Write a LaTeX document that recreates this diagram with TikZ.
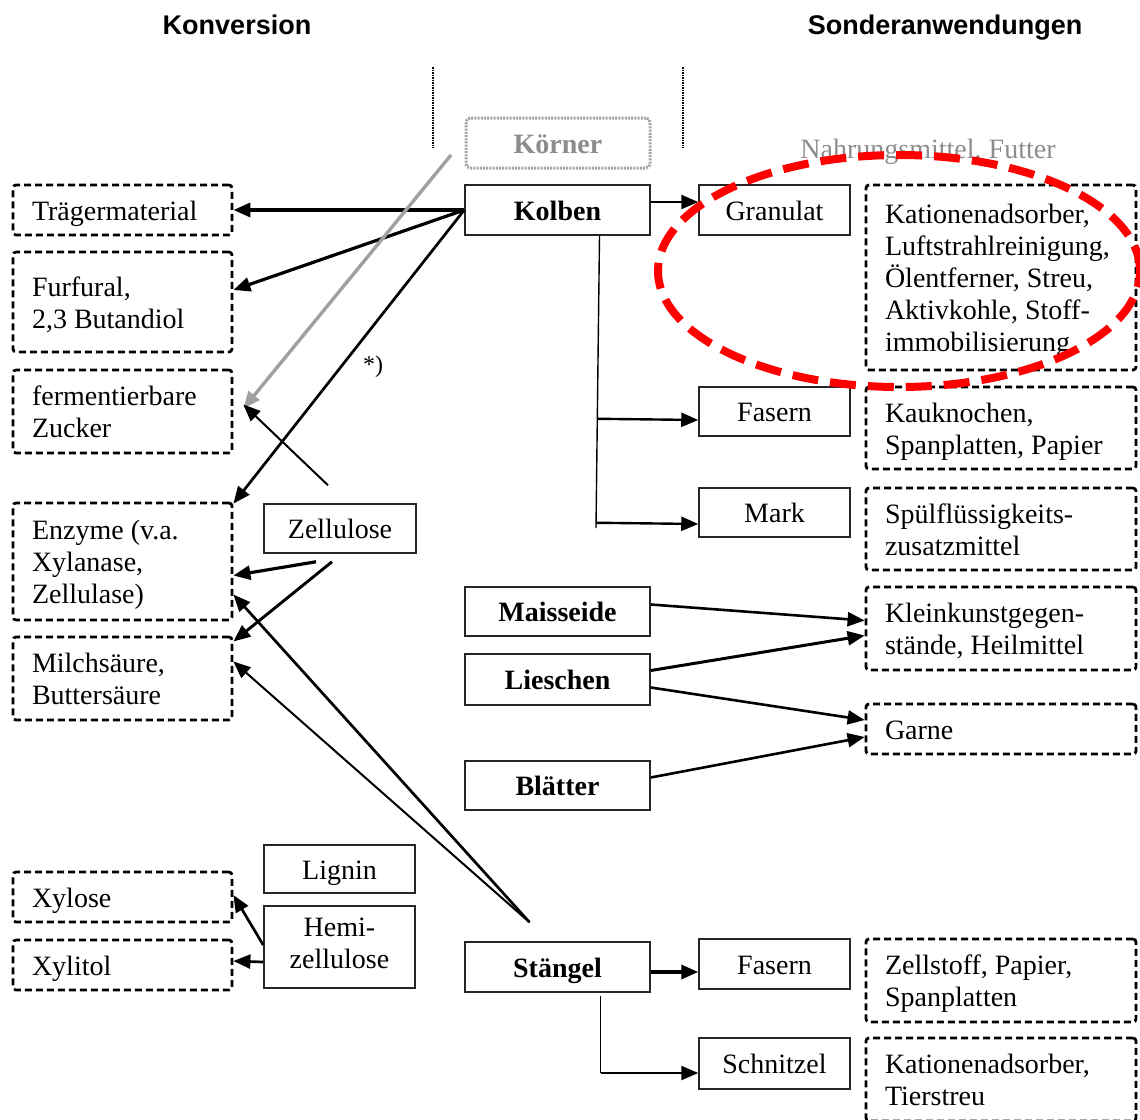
\documentclass[tikz,border=0pt]{standalone}
\usepackage{fontspec}
\setmainfont{Liberation Serif}
\setsansfont{Liberation Sans}
\usetikzlibrary{arrows.meta,calc}
\definecolor{kgray}{RGB}{140,140,140}
\definecolor{agray}{RGB}{160,160,160}
\begin{document}
\begin{tikzpicture}[x=1pt,y=-1pt,
  every node/.style={font=\fontsize{28}{32}\selectfont},
  struts/.style={execute at end node={\rule[-8pt]{0pt}{8pt}}},
  sbox/.style={draw=black!85, line width=1.5pt, inner sep=0pt, align=center, struts,
    execute at begin node={\rule{0pt}{28pt}}},
  dbox/.style={draw=black, line width=2.8pt, dash pattern=on 7pt off 4pt, rounded corners=3pt, inner xsep=19pt, inner ysep=0pt, align=left, struts,
    execute at begin node={\spaceskip=0pt\xspaceskip=0pt\relax\rule{0pt}{28pt}}},
  lbox/.style={dbox, minimum width=219pt, text width=181pt},
  rbox/.style={dbox, minimum width=270pt, text width=232pt},
  arr/.style={-{Triangle[length=17pt,width=14pt]}, line width=2.5pt},
  head/.style={font=\fontsize{27}{30}\selectfont\sffamily\bfseries, anchor=base},
  dotline/.style={line width=2.4pt, dash pattern=on 1.5pt off 1pt},
]
\useasboundingbox (0,0) rectangle (1140,1119);

% headers
\node[head] (hconv) at (237,34) {Konversion};
\node[head] (hsonder) at (945,34) {Sonderanwendungen};

% dotted vertical lines
\draw[dotline] (433,67) -- (433,148);
\draw[dotline] (683,67) -- (683,148);

% top
\node[sbox, minimum width=184pt, minimum height=50pt, draw=kgray!80, line width=3pt, dash pattern=on 2pt off 1.2pt, rounded corners=4pt, text=kgray, font=\fontsize{28}{32}\selectfont\bfseries] (koerner) at (558,143) {Körner};
\node[text=kgray, anchor=base] (nahr) at (928,158) {Nahrungsmittel, Futter};

% left dashed boxes
\node[lbox, minimum height=50pt] (trag) at (122.5,210) {Trägermaterial};
\node[lbox, minimum height=100pt] (furf) at (122.5,302) {Furfural,\\2,3 Butandiol};
\node[lbox, minimum height=83pt] (ferm) at (122.5,411.5) {fermentierbare\\Zucker};
\node[lbox, minimum height=117pt] (enz) at (122.5,561.5) {Enzyme (v.a.\\Xylanase,\\Zellulase)};
\node[lbox, minimum height=83pt] (milch) at (122.5,678.5) {Milchsäure,\\Buttersäure};
\node[lbox, minimum height=50pt] (xylose) at (122.5,897) {Xylose};
\node[lbox, minimum height=50pt] (xylitol) at (122.5,965) {Xylitol};

% solid boxes left-middle
\node[sbox, minimum width=152pt, minimum height=49pt] (zell) at (340,528.5) {Zellulose};
\node[sbox, minimum width=151pt, minimum height=48pt] (lignin) at (339.5,869) {Lignin};
\node[sbox, minimum width=151pt, minimum height=82pt] (hemi) at (339.5,947) {Hemi-\\zellulose};

% middle column
\node[sbox, minimum width=185pt, minimum height=50pt] (kolben) at (557.5,210) {\textbf{Kolben}};
\node[sbox, minimum width=185pt, minimum height=49pt] (mais) at (557.5,611.5) {\textbf{Maisseide}};
\node[sbox, minimum width=185pt, minimum height=51pt] (lies) at (557.5,679.5) {\textbf{Lieschen}};
\node[sbox, minimum width=185pt, minimum height=49pt] (blaet) at (557.5,785.5) {\textbf{Blätter}};
\node[sbox, minimum width=185pt, minimum height=50pt] (staengel) at (557.5,967) {\textbf{Stängel}};

% products
\node[sbox, minimum width=151pt, minimum height=50pt] (granulat) at (774.5,210) {Granulat};
\node[sbox, minimum width=151pt, minimum height=49pt] (fasern1) at (774.5,411.5) {Fasern};
\node[sbox, minimum width=151pt, minimum height=49pt] (mark) at (774.5,512.5) {Mark};
\node[sbox, minimum width=151pt, minimum height=50pt] (fasern2) at (774.5,964) {Fasern};
\node[sbox, minimum width=151pt, minimum height=51pt] (schnitzel) at (774.5,1063.5) {Schnitzel};

% right dashed boxes
\node[rbox, minimum height=185pt] (kation) at (1001,277.5) {Kationenadsorber,\\Luftstrahlreinigung,\\Ölentferner, Streu,\\Aktivkohle, Stoff-\\immobilisierung};
\node[rbox, minimum height=82pt] (kau) at (1001,428) {Kauknochen,\\Spanplatten, Papier};
\node[rbox, minimum height=82pt] (spuel) at (1001,529) {Spülflüssigkeits-\\zusatzmittel};
\node[rbox, minimum height=83pt] (klein) at (1001,628.5) {Kleinkunstgegen-\\stände, Heilmittel};
\node[rbox, minimum height=50pt] (garne) at (1001,729) {Garne};
\node[rbox, minimum height=83pt] (zellstoff) at (1001,980.5) {Zellstoff, Papier,\\Spanplatten};
\node[rbox, minimum height=83pt] (tier) at (1001,1079.5) {Kationenadsorber,\\Tierstreu};

% Kolben -> left
\draw[arr, line width=3.4pt] (kolben.west) -- (trag.east);
\draw[arr, line width=3.2pt] (kolben.west) -- ([yshift=12pt]furf.east);
\draw[arr, line width=2.7pt] (kolben.west) -- ([yshift=-2pt]enz.north east);
\node[font=\fontsize{24}{28}\selectfont] (star) at (373,367) {*)};

% grey arrow from Koerner
\coordinate (gstart) at (451,155);
\draw[arr, draw=agray, fill=agray, line width=3.4pt] (gstart) -- ([xshift=10pt,yshift=3pt]ferm.east);

% Zellulose arrows
\draw[arr, line width=2pt] ([xshift=-12pt,yshift=18pt]zell.north) -- ([xshift=10pt,yshift=7pt]ferm.east);
\draw[arr, line width=3.2pt] ([xshift=-24pt,yshift=-8pt]zell.south) -- ([yshift=-14pt]enz.east);
\draw[arr, line width=2.9pt] ([xshift=-8pt,yshift=-8pt]zell.south) -- ([yshift=37pt]milch.east);

% Staengel apex arrows
\coordinate (apex) at ([xshift=-28pt,yshift=19pt]staengel.north);
\draw[arr, line width=2.7pt] (apex) -- ([yshift=-33pt]enz.east);
\draw[arr, line width=2pt] (apex) -- ([yshift=17pt]milch.east);

% Hemizellulose arrows
\draw[arr, line width=2.7pt] ([yshift=2pt]hemi.west) -- ([yshift=2pt]xylose.east);
\draw[arr, line width=2.7pt] ([yshift=-15pt]hemi.west) -- ([yshift=4pt]xylitol.east);

% middle to right
\draw[arr, line width=2.6pt] ([yshift=7pt]mais.east) -- ([yshift=8pt]klein.west);
\draw[arr, line width=3pt] ([yshift=9pt]lies.east) -- ([yshift=-7pt]klein.west);
\draw[arr, line width=2.6pt] ([yshift=-8pt]lies.east) -- ([yshift=9pt]garne.west);
\draw[arr, line width=2.6pt] ([yshift=8pt]blaet.east) -- ([yshift=-8pt]garne.west);

% Kolben branches
\draw[arr, line width=2.4pt] ([yshift=8pt]kolben.east) -- ([yshift=8pt]granulat.west);
\coordinate (ktop) at ([xshift=42pt]kolben.south);
\coordinate (kbot) at (596,528);
\draw[line width=1.4pt] (ktop) -- (kbot);
\coordinate (fa) at ([yshift=-8.5pt]fasern1.west);
\coordinate (ma) at ([yshift=-11.5pt]mark.west);
\draw[arr, line width=2.4pt] ($(ktop)!(fa)!(kbot)$) -- (fa);
\draw[arr, line width=2.4pt] ($(ktop)!(ma)!(kbot)$) -- (ma);

% Staengel branches
\coordinate (sfa) at ([yshift=-5pt]staengel.east);
\draw[arr, line width=3.4pt] (sfa) -- (sfa -| fasern2.west);
\coordinate (sv) at ([xshift=43pt,yshift=-3pt]staengel.south);
\coordinate (schin) at ([yshift=-9.5pt]schnitzel.west);
\draw[line width=1.4pt] (sv) -- (sv |- schin);
\draw[arr, line width=2.4pt] (sv |- schin) -- (schin);

% red dashed ellipse
\draw[red, line width=8pt, dash pattern=on 26pt off 12pt] (899,271) ellipse [x radius=241pt, y radius=116pt];
\end{tikzpicture}
\end{document}
